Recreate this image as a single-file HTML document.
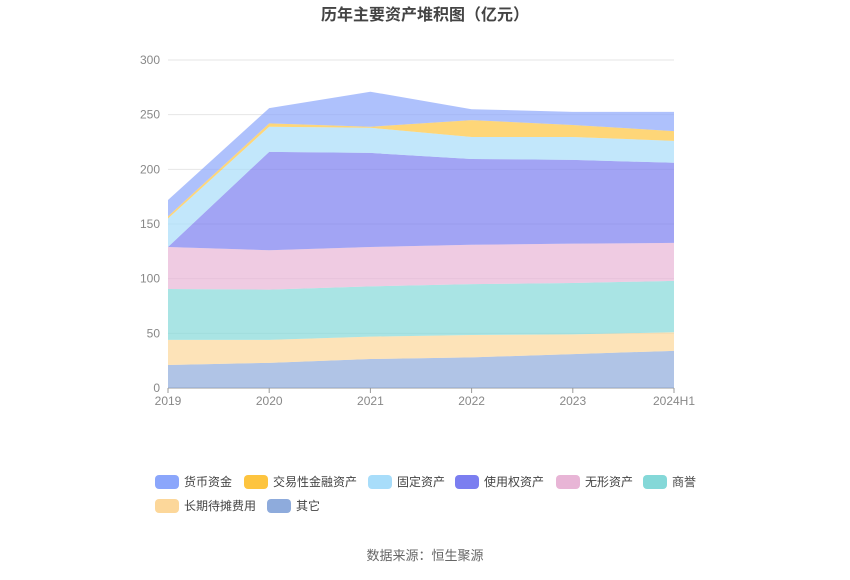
<!DOCTYPE html>
<html><head><meta charset="utf-8"><style>
body{margin:0;background:#fff;font-family:"Liberation Sans","Noto Sans CJK SC",sans-serif;}
svg text{font-family:"Liberation Sans","Noto Sans CJK SC",sans-serif;}
</style></head><body>
<svg id="c" width="850" height="575" xmlns="http://www.w3.org/2000/svg">
<text x="425" y="20" text-anchor="middle" font-size="16" font-weight="bold" fill="#444">历年主要资产堆积图（亿元）</text>
<text x="425" y="560" text-anchor="middle" font-size="13" fill="#666">数据来源：恒生聚源</text>
<g id="grid"></g><g id="areas"></g><g id="axes"></g><g id="legend"></g>
</svg>
<script>
const categories=["2019","2020","2021","2022","2023","2024H1"];
const seriesNames=["货币资金","交易性金融资产","固定资产","使用权资产","无形资产","商誉","长期待摊费用","其它"];
const colors=["#8ba6fb","#fdc43f","#a8ddfa","#7b7ef0","#e8b5d6","#84d8d8","#fcd79a","#8eabdc"];
const other=[21,23,26.5,28,31,34];
const prepaid=[23,21,20.5,20.5,18,17];
const goodwill=[46.5,46,46,46.5,47,47];
const intangible=[38.5,36,36,36,36,34.7];
const rou=[0,90,86,78.5,76.6,73.3];
const fixed=[26,23,23,20.1,21,20];
const trading=[2,3,1,15.4,11,9];
const cash=[15,14,32,10,12,17.5];
const yTicks=[0,50,100,150,200,250,300];
const stackOrder=[other,prepaid,goodwill,intangible,rou,fixed,trading,cash];
const stackIdx=[7,6,5,4,3,2,1,0];
const NS="http://www.w3.org/2000/svg";
const x0=168,x1=674,y0=388,y300=60;
const xs=i=>x0+(x1-x0)*i/(categories.length-1);
const ys=v=>y0-(y0-y300)*v/300;
function mk(t,a,p){const e=document.createElementNS(NS,t);for(const k in a)e.setAttribute(k,a[k]);p.appendChild(e);return e;}
const grid=document.getElementById('grid'),axes=document.getElementById('axes'),areas=document.getElementById('areas'),leg=document.getElementById('legend');
yTicks.forEach(v=>{
 const l=mk('line',{x1:x0,x2:x1,y1:ys(v),y2:ys(v),stroke:v===0?'#999':'#e6e6e6','stroke-width':1},grid);
 
 
 const t=mk('text',{x:160,y:ys(v)+4,'text-anchor':'end','font-size':12,fill:'#888'},axes);t.textContent=v;
 
 
});
categories.forEach((c,i)=>{
 mk('line',{x1:xs(i),x2:xs(i),y1:y0,y2:y0+5,stroke:'#999'},axes);
 const t=mk('text',{x:xs(i),y:y0+17,'text-anchor':'middle','font-size':12,fill:'#888'},axes);t.textContent=c;
 
 
});
let base=categories.map(()=>0);
stackOrder.forEach((arr,k)=>{
 const top=base.map((b,i)=>b+arr[i]);
 let d='M'+top.map((v,i)=>xs(i)+','+ys(v)).join('L');
 for(let i=categories.length-1;i>=0;i--)d+='L'+xs(i)+','+ys(base[i]);
 const si=stackIdx[k];
 const p=mk('path',{d:d+'Z',fill:colors[si],'fill-opacity':0.7,stroke:'none'},areas);
 
 
 base=top;
});
const lpos=[[155,482],[244,482],[368,482],[455,482],[556,482],[643,482],[155,506],[267,506]];
seriesNames.forEach((n,i)=>{
 const g=mk('g',{},leg);
 
 
 mk('rect',{x:lpos[i][0],y:lpos[i][1]-7,width:24,height:14,rx:4,fill:colors[i]},g);
 const t=mk('text',{x:lpos[i][0]+29,y:lpos[i][1]+4,'font-size':12,fill:'#444'},g);t.textContent=n;
});
</script>
</body></html>
